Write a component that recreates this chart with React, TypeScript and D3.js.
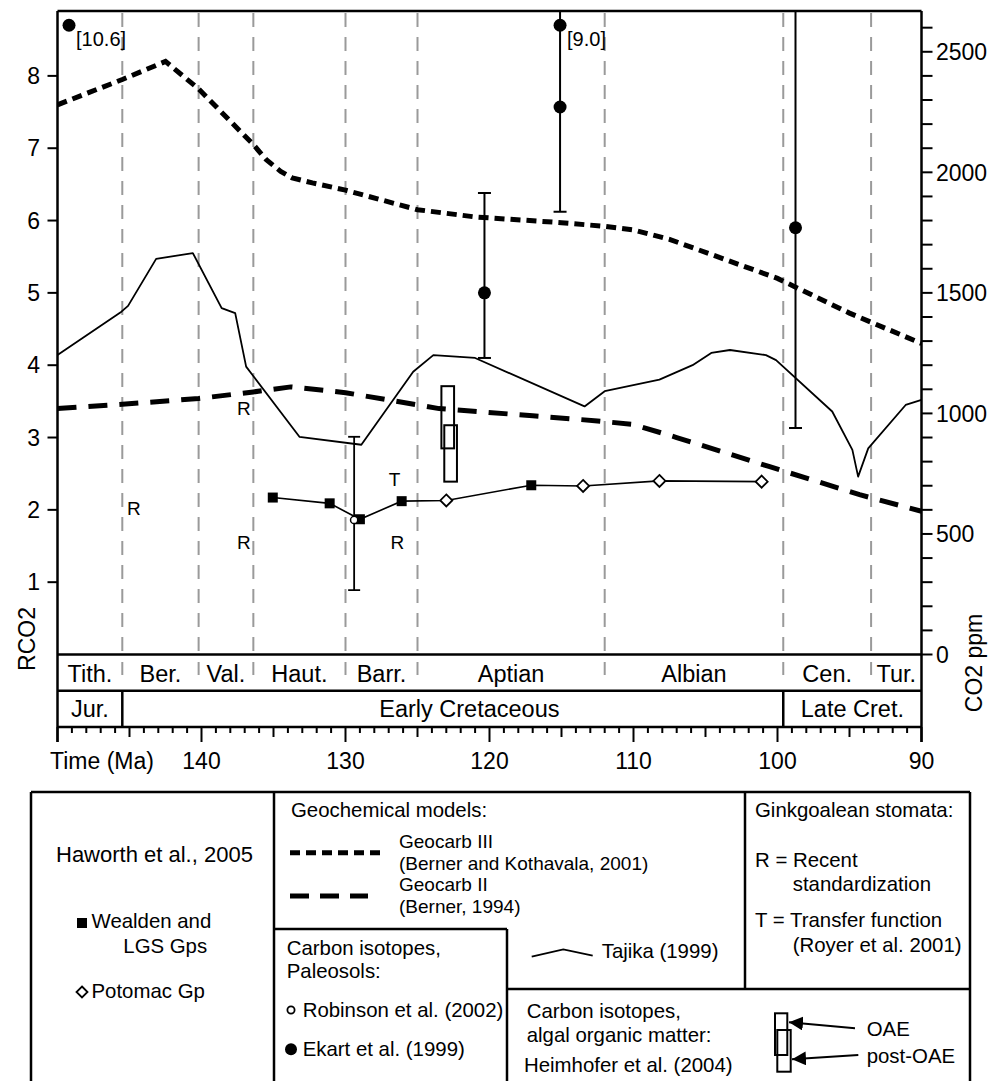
import React from 'react';
import * as d3 from 'd3';

// ---------- DATA ----------
// Geocarb III (Berner & Kothavala 2001): [age Ma, RCO2]
const geocarb3: [number, number][] = [
  [150, 7.6], [145.5, 7.95], [142.5, 8.2], [140.2, 7.82], [136.4, 7.05], [135.5, 6.84],
  [134.5, 6.68], [133.7, 6.59], [132.3, 6.52], [130.9, 6.46], [130, 6.42], [125, 6.15],
  [121, 6.05], [115, 5.97], [112, 5.92], [110, 5.87], [107.5, 5.74], [100, 5.2],
  [95, 4.72], [90, 4.3],
];
// Geocarb II (Berner 1994)
const geocarb2: [number, number][] = [
  [150, 3.4], [145.5, 3.46], [140.2, 3.54], [136.4, 3.63], [133.8, 3.7], [130, 3.62],
  [123.5, 3.4], [117, 3.3], [112.5, 3.23], [110, 3.18], [107, 3.0], [100.6, 2.6],
  [94.3, 2.21], [90, 1.98],
];
// Tajika (1999)
const tajika: [number, number][] = [
  [150, 4.14], [145.56, 4.74], [145.1, 4.82], [143.15, 5.47], [140.6, 5.55], [138.6, 4.79],
  [137.66, 4.72], [136.9, 3.98], [133.2, 3.01], [128.9, 2.9], [125.3, 3.91], [123.9, 4.14],
  [121.0, 4.1], [113.4, 3.43], [112.0, 3.64], [108.2, 3.8], [105.9, 4.0], [104.6, 4.17],
  [103.3, 4.21], [100.8, 4.14], [100.1, 4.07], [96.2, 3.36], [94.8, 2.83], [94.4, 2.46],
  [93.7, 2.85], [91.1, 3.45], [90.0, 3.52],
];
// Haworth et al. 2005: W = Wealden & LGS Gps (filled square), P = Potomac Gp (open diamond)
const haworthAges = [135.05, 131.1, 129.0, 126.1, 123.0, 117.1, 113.5, 108.2, 101.1];
const haworthValues = [2.17, 2.09, 1.87, 2.12, 2.13, 2.34, 2.33, 2.4, 2.39];
const haworthGroups = ['W', 'W', 'W', 'W', 'P', 'W', 'P', 'P', 'P'];
// Ekart et al. 1999 (filled circles): value (off-scale ones labelled), error range
const ekartAges = [149.2, 115.1, 115.1, 120.35, 98.75];
const ekartValues = [10.6, 9.0, 7.57, 5.0, 5.9];
const ekartLow = [null, null, 6.12, 4.1, 3.13];
const ekartHigh = [null, null, 12, 6.38, 12];
const offScaleValue = 8.7;
// Robinson et al. 2002 (open circle)
const robinsonAge = [129.4];
const robinsonValue = [1.86];
const robinsonLow = [0.89];
const robinsonHigh = [3.01];
// Heimhofer et al. 2004 boxes
const heimhoferLabels = ['OAE', 'post-OAE'];
const heimhoferAges = [122.9, 122.7];
const heimhoferLow = [2.85, 2.39];
const heimhoferHigh = [3.71, 3.17];
const heimhoferHalfWidth = 0.44;
// Ginkgoalean stomata letters
const stomataLetters = ['R', 'R', 'R', 'T', 'R'];
const stomataAges = [137.06, 144.7, 137.06, 126.6, 126.4];
const stomataValues = [3.4, 2.02, 1.56, 2.42, 1.56];
// Stages and eras
const stageNames = ['Tith.', 'Ber.', 'Val.', 'Haut.', 'Barr.', 'Aptian', 'Albian', 'Cen.', 'Tur.'];
const stageBounds = [150, 145.5, 140.2, 136.4, 130, 125, 112, 99.6, 93.5, 90];
const eraNames = ['Jur.', 'Early Cretaceous', 'Late Cret.'];
const eraBounds = [150, 145.5, 99.6, 90];
const eraLabelAges = [147.75, 121.4, 94.8];
// Axes
const xMajorTicks = [140, 130, 120, 110, 100, 90];
const rTicks = [1, 2, 3, 4, 5, 6, 7, 8];
const ppmLabelTicks = [0, 500, 1000, 1500, 2000, 2500];

const FONT = "'Liberation Sans', Arial, Helvetica, sans-serif";

export default function App() {
  const x = d3.scaleLinear().domain([150, 90]).range([57.5, 921.5]);
  const y = d3.scaleLinear().domain([0, 8.9]).range([654.5, 10.8]);
  const yPpm = d3.scaleLinear().domain([0, 2670]).range([654.5, 10.8]);
  const line = d3.line<[number, number]>().x((d) => x(d[0])).y((d) => y(d[1]));

  const top = 11, bot = 654.5, band1 = 690.7, band2 = 727;
  const left = x(150), right = x(90);

  const minorTicks = d3.range(150, 89, -1);
  const ppmTicks = d3.range(0, 2601, 100);

  const haworthPts = haworthAges.map((a, i) => [a, haworthValues[i]] as [number, number]);

  const diamond = (cx: number, cy: number, r: number) =>
    `M${cx},${cy - r}L${cx + r},${cy}L${cx},${cy + r}L${cx - r},${cy}Z`;

  return (
    <svg width={1000} height={1081} style={{ position: 'absolute', left: 0, top: 0, background: '#fff' }}
      fontFamily={FONT}>
      <defs>
        <clipPath id="plotClip">
          <rect x={left} y={top} width={right - left} height={bot - top} />
        </clipPath>
        <marker id="arrow" viewBox="0 0 10 10" refX="10" refY="5" markerWidth="7" markerHeight="7" orient="auto">
          <path d="M0,0L10,5L0,10Z" fill="#000" />
        </marker>
      </defs>
      <rect x={0} y={0} width={1000} height={1081} fill="#fff" />

      {/* stage boundary dashed lines */}
      {stageBounds.slice(1, -1).map((b) => (
        <g key={'sb' + b}>
          <line x1={x(b)} x2={x(b)} y1={top + 2} y2={bot} stroke="#9a9a9a" strokeWidth={2} strokeDasharray="14 10" />
          <line x1={x(b)} x2={x(b)} y1={662} y2={675} stroke="#9a9a9a" strokeWidth={2} />
        </g>
      ))}

      <g clipPath="url(#plotClip)">
        {/* Geocarb III */}
        <path d={line(geocarb3) || ''} fill="none" stroke="#000" strokeWidth={5} strokeDasharray="10 6" />
        {/* Geocarb II */}
        <path d={line(geocarb2) || ''} fill="none" stroke="#000" strokeWidth={5} strokeDasharray="19 12" />
        {/* Tajika */}
        <path d={line(tajika) || ''} fill="none" stroke="#000" strokeWidth={1.8} strokeLinejoin="round" />

        {/* Heimhofer boxes */}
        {heimhoferAges.map((a, i) => (
          <rect key={'hb' + i} x={x(a + heimhoferHalfWidth)} y={y(heimhoferHigh[i])}
            width={x(a - heimhoferHalfWidth) - x(a + heimhoferHalfWidth)}
            height={y(heimhoferLow[i]) - y(heimhoferHigh[i])} fill="none" stroke="#000" strokeWidth={2} />
        ))}

        {/* Haworth line */}
        <path d={line(haworthPts) || ''} fill="none" stroke="#000" strokeWidth={1.6} />

        {/* Robinson error bar */}
        {robinsonAge.map((a, i) => (
          <g key={'rob' + i}>
            <line x1={x(a)} x2={x(a)} y1={y(robinsonHigh[i])} y2={y(robinsonLow[i])} stroke="#000" strokeWidth={1.8} />
            <line x1={x(a) - 6} x2={x(a) + 6} y1={y(robinsonHigh[i])} y2={y(robinsonHigh[i])} stroke="#000" strokeWidth={1.8} />
            <line x1={x(a) - 6} x2={x(a) + 6} y1={y(robinsonLow[i])} y2={y(robinsonLow[i])} stroke="#000" strokeWidth={1.8} />
          </g>
        ))}

        {/* Haworth markers */}
        {haworthPts.map((p, i) =>
          haworthGroups[i] === 'W' ? (
            <rect key={'hw' + i} x={x(p[0]) - 5} y={y(p[1]) - 5} width={10} height={10} fill="#000" />
          ) : (
            <path key={'hw' + i} d={diamond(x(p[0]), y(p[1]), 6)} fill="#fff" stroke="#000" strokeWidth={1.8} />
          )
        )}

        {robinsonAge.map((a, i) => (
          <circle key={'robc' + i} cx={x(a)} cy={y(robinsonValue[i])} r={3.6} fill="#fff" stroke="#000" strokeWidth={1.5} />
        ))}

        {/* Ekart */}
        {ekartAges.map((a, i) => {
          const v = ekartValues[i];
          const off = v > 8.9;
          const pv = off ? offScaleValue : v;
          const lo = ekartLow[i];
          const hi = ekartHigh[i];
          return (
            <g key={'ek' + i}>
              {lo !== null && hi !== null && (
                <g>
                  <line x1={x(a)} x2={x(a)} y1={y(Math.min(hi, 8.9))} y2={y(lo)} stroke="#000" strokeWidth={2} />
                  <line x1={x(a) - 6.5} x2={x(a) + 6.5} y1={y(lo)} y2={y(lo)} stroke="#000" strokeWidth={2} />
                  {hi < 8.9 && (
                    <line x1={x(a) - 6.5} x2={x(a) + 6.5} y1={y(hi)} y2={y(hi)} stroke="#000" strokeWidth={2} />
                  )}
                </g>
              )}
              <circle cx={x(a)} cy={y(pv)} r={6.5} fill="#000" />
              {off && (
                <text x={x(a) + 7} y={y(pv) + 21} fontSize={20}>{`[${v.toFixed(1)}]`}</text>
              )}
            </g>
          );
        })}

        {/* stomata letters */}
        {stomataLetters.map((l, i) => (
          <text key={'st' + i} x={x(stomataAges[i])} y={y(stomataValues[i])} dy="0.36em" textAnchor="middle" fontSize={19}>
            {l}
          </text>
        ))}
      </g>

      {/* frame */}
      <line x1={left} x2={right} y1={top} y2={top} stroke="#000" strokeWidth={2.5} />
      <line x1={left} x2={left} y1={top} y2={band2 + 15} stroke="#000" strokeWidth={2.5} />
      <line x1={right} x2={right} y1={top} y2={band2 + 15} stroke="#000" strokeWidth={2.5} />
      <line x1={left} x2={right} y1={bot} y2={bot} stroke="#000" strokeWidth={2.5} />
      <line x1={left} x2={right} y1={band1} y2={band1} stroke="#000" strokeWidth={2.5} />
      <line x1={left} x2={right} y1={band2} y2={band2} stroke="#000" strokeWidth={2.5} />
      {eraBounds.slice(1, -1).map((b) => (
        <line key={'eb' + b} x1={x(b)} x2={x(b)} y1={band1} y2={band2} stroke="#000" strokeWidth={2.5} />
      ))}

      {/* stage labels */}
      {stageNames.map((n, i) => (
        <text key={'sn' + n} x={x((stageBounds[i] + stageBounds[i + 1]) / 2)} y={681.5} textAnchor="middle" fontSize={23.5}>
          {n}
        </text>
      ))}
      {eraNames.map((n, i) => (
        <text key={'en' + n} x={x(eraLabelAges[i])} y={717.3} textAnchor="middle" fontSize={23.5}>
          {n}
        </text>
      ))}

      {/* x ticks */}
      {minorTicks.map((t) => {
        const len = t % 10 === 0 ? 15 : t % 5 === 0 ? 10 : 6;
        return <line key={'xt' + t} x1={x(t)} x2={x(t)} y1={band2} y2={band2 + len} stroke="#000" strokeWidth={2} />;
      })}
      {xMajorTicks.map((t) => (
        <text key={'xl' + t} x={x(t)} y={769} textAnchor="middle" fontSize={23}>{t}</text>
      ))}
      <text x={50} y={769} fontSize={23}>Time (Ma)</text>

      {/* left axis */}
      {rTicks.map((t) => (
        <g key={'yl' + t}>
          <line x1={left - 10} x2={left} y1={y(t)} y2={y(t)} stroke="#000" strokeWidth={2} />
          <text x={40} y={y(t)} dy="0.36em" textAnchor="end" fontSize={23}>{t}</text>
        </g>
      ))}
      <text transform={`translate(35,639) rotate(-90)`} textAnchor="middle" fontSize={23}>RCO2</text>

      {/* right axis */}
      {ppmTicks.map((t) => (
        <line key={'pt' + t} x1={right} x2={right + 11} y1={yPpm(t)} y2={yPpm(t)} stroke="#000" strokeWidth={2} />
      ))}
      {ppmLabelTicks.map((t) => (
        <text key={'pl' + t} x={936} y={yPpm(t)} dy="0.36em" fontSize={23}>{t}</text>
      ))}
      <text transform={`translate(982,663) rotate(-90)`} textAnchor="middle" fontSize={23}>CO2 ppm</text>

      {/* ---------- legend ---------- */}
      <g stroke="#000" strokeWidth={2.5} fill="none">
        <line x1={31} x2={970} y1={792} y2={792} />
        <line x1={31} x2={31} y1={792} y2={1081} />
        <line x1={274} x2={274} y1={792} y2={1081} />
        <line x1={274} x2={507} y1={929} y2={929} />
        <line x1={507} x2={507} y1={929} y2={1081} />
        <line x1={745} x2={745} y1={792} y2={989} />
        <line x1={507} x2={970} y1={989} y2={989} />
        <line x1={970} x2={970} y1={792} y2={1081} />
      </g>
      <g fontSize={20.4} fill="#000">
        <text x={56} y={862} fontSize={22}>Haworth et al., 2005</text>
        <rect x={77} y={918} width={10} height={10} fill="#000" />
        <text x={91.5} y={928}>Wealden and</text>
        <text x={123.3} y={952.7}>LGS Gps</text>
        <path d={diamond(82, 992, 5.5)} fill="#fff" stroke="#000" strokeWidth={1.8} />
        <text x={91.5} y={998}>Potomac Gp</text>

        <text x={291} y={816.7}>Geochemical models:</text>
        <line x1={290} x2={380} y1={852.7} y2={852.7} stroke="#000" strokeWidth={5} strokeDasharray="10 6" />
        <text x={399} y={848} fontSize={19}>Geocarb III</text>
        <text x={399} y={870} fontSize={19}>(Berner and Kothavala, 2001)</text>
        <line x1={290} x2={368} y1={896} y2={896} stroke="#000" strokeWidth={5} strokeDasharray="19 11" />
        <text x={399} y={891} fontSize={19}>Geocarb II</text>
        <text x={399} y={913} fontSize={19}>(Berner, 1994)</text>

        <text x={286.7} y={955}>Carbon isotopes,</text>
        <text x={286.7} y={978.3}>Paleosols:</text>
        <circle cx={291} cy={1010} r={3.6} fill="#fff" stroke="#000" strokeWidth={1.8} />
        <text x={302.7} y={1016.7}>Robinson et al. (2002)</text>
        <circle cx={291} cy={1049.3} r={6} fill="#000" />
        <text x={302.7} y={1055.7}>Ekart et al. (1999)</text>

        <path d="M531.7,956.7L563.3,949.3L592.7,955.7" fill="none" stroke="#000" strokeWidth={1.8} />
        <text x={601.7} y={958.3}>Tajika (1999)</text>

        <text x={755} y={816.7}>Ginkgoalean stomata:</text>
        <text x={755} y={867.3}>R = Recent</text>
        <text x={792.7} y={890.7}>standardization</text>
        <text x={755} y={926.7}>T = Transfer function</text>
        <text x={792.7} y={951.7}>(Royer et al. 2001)</text>

        <text x={526.7} y={1018.3}>Carbon isotopes,</text>
        <text x={526.7} y={1042.3}>algal organic matter:</text>
        <text x={524} y={1071.7}>Heimhofer et al. (2004)</text>
        <rect x={775} y={1013.3} width={12.3} height={41.7} fill="none" stroke="#000" strokeWidth={2} />
        <rect x={777.3} y={1030} width={13.4} height={41.7} fill="none" stroke="#000" strokeWidth={2} />
        <line x1={855} y1={1028.3} x2={789} y2={1022.3} stroke="#000" strokeWidth={2} markerEnd="url(#arrow)" />
        <line x1={858.3} y1={1055} x2={792} y2={1059.3} stroke="#000" strokeWidth={2} markerEnd="url(#arrow)" />
        <text x={866.7} y={1036}>{heimhoferLabels[0]}</text>
        <text x={866.7} y={1063.3}>{heimhoferLabels[1]}</text>
      </g>
    </svg>
  );
}
